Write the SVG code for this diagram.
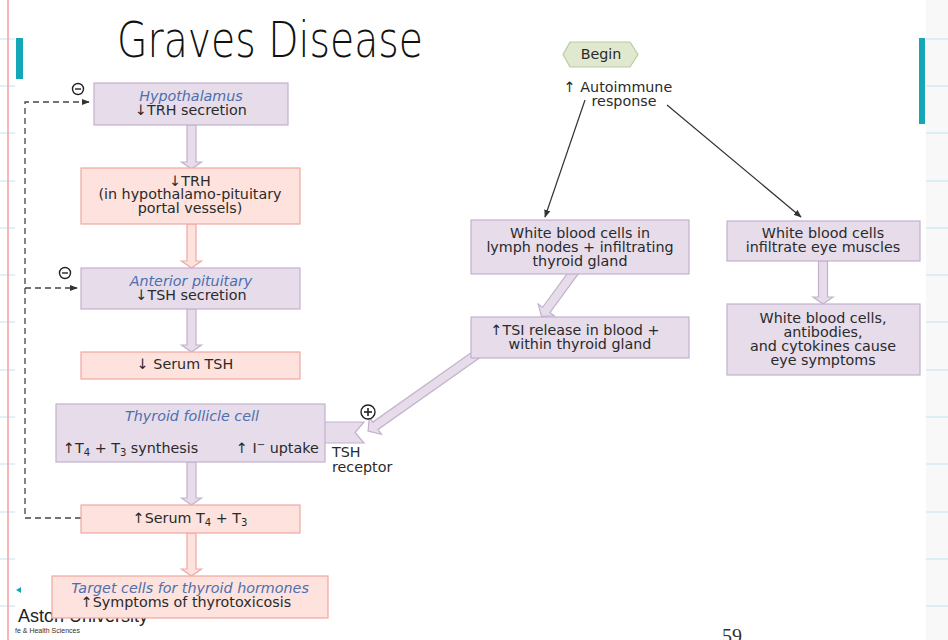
<svg xmlns="http://www.w3.org/2000/svg" width="948" height="640" viewBox="0 0 948 640">
<style>
  .t { font-family: "DejaVu Sans", "Liberation Sans", sans-serif; font-size: 14.3px; fill: #2a2a2a; text-anchor: middle; }
  .tl { font-family: "DejaVu Sans", "Liberation Sans", sans-serif; font-size: 14.3px; fill: #2a2a2a; }
  .it { font-style: italic; fill: #4d6fae; }
  .lil { fill: #e6dcea; stroke: #c3b1cd; stroke-width: 1.2; }
  .sal { fill: #fde2dd; stroke: #f0a9a1; stroke-width: 1.2; }
  .grn { fill: #e0e9d0; stroke: #b9cc9d; stroke-width: 1.2; }
  .thin { fill: none; stroke: #333; stroke-width: 1.2; }
  .dash { fill: none; stroke: #444; stroke-width: 1.3; stroke-dasharray: 6 4; }
  .sign { fill: #fff; stroke: #222; stroke-width: 1.4; }
  .nb { stroke: #bfe2f2; stroke-width: 1; }
</style>
<defs>
  <marker id="ah" viewBox="0 0 10 10" refX="9" refY="5" markerWidth="8" markerHeight="8" markerUnits="userSpaceOnUse" orient="auto">
    <path d="M0,1 L10,5 L0,9 Z" fill="#333"/>
  </marker>
</defs>

<!-- notebook page background -->
<g id="page">
  <rect x="0" y="0" width="948" height="640" fill="#ffffff"/>
  <rect x="926" y="0" width="22" height="640" fill="#f8f8f8"/>
  <g class="nb">
    <line x1="0" y1="39" x2="15" y2="39"/><line x1="0" y1="86" x2="15" y2="86"/><line x1="0" y1="133" x2="15" y2="133"/>
    <line x1="0" y1="181" x2="15" y2="181"/><line x1="0" y1="228" x2="15" y2="228"/><line x1="0" y1="275" x2="15" y2="275"/>
    <line x1="0" y1="322" x2="15" y2="322"/><line x1="0" y1="370" x2="15" y2="370"/><line x1="0" y1="417" x2="15" y2="417"/>
    <line x1="0" y1="464" x2="15" y2="464"/><line x1="0" y1="512" x2="15" y2="512"/><line x1="0" y1="559" x2="15" y2="559"/>
    <line x1="0" y1="606" x2="15" y2="606"/>
    <line x1="926" y1="39" x2="948" y2="39"/><line x1="926" y1="86" x2="948" y2="86"/><line x1="926" y1="133" x2="948" y2="133"/>
    <line x1="926" y1="181" x2="948" y2="181"/><line x1="926" y1="228" x2="948" y2="228"/><line x1="926" y1="275" x2="948" y2="275"/>
    <line x1="926" y1="322" x2="948" y2="322"/><line x1="926" y1="370" x2="948" y2="370"/><line x1="926" y1="417" x2="948" y2="417"/>
    <line x1="926" y1="464" x2="948" y2="464"/><line x1="926" y1="512" x2="948" y2="512"/><line x1="926" y1="559" x2="948" y2="559"/>
    <line x1="926" y1="606" x2="948" y2="606"/>
  </g>
  <line x1="8" y1="0" x2="8" y2="640" stroke="#f5a3a3" stroke-width="1.6"/>
  <rect x="16" y="38" width="7" height="41" fill="#14a7b8"/>
  <rect x="919" y="38" width="6" height="86" fill="#14a7b8"/>
  <polygon points="16,590 21,587 21,593" fill="#14a7b8"/>
  <text x="18" y="622" font-family="Liberation Sans, sans-serif" font-size="18" fill="#222">Aston University</text>
  <text x="15" y="633" font-family="Liberation Sans, sans-serif" font-size="7" fill="#333">fe &amp; Health Sciences</text>
  <text x="722" y="643" font-family="Liberation Serif, serif" font-size="20" fill="#333">59</text>
</g>

<text id="title" x="117" y="57" font-family="DejaVu Sans, sans-serif" font-weight="200" font-size="50" textLength="306" lengthAdjust="spacingAndGlyphs" fill="#111">Graves Disease</text>

<!-- connectors -->
<g id="connectors">
  <!-- block arrows, left column -->
  <polygon class="lil" points="187,125 196,125 196,162 201.5,162 191.5,169 181.5,162 187,162"/>
  <polygon class="sal" points="187,224 196,224 196,261 201.5,261 191.5,268 181.5,261 187,261"/>
  <polygon class="lil" points="187,309 196,309 196,345 201.5,345 191.5,352 181.5,345 187,345"/>
  <polygon class="lil" points="187,462 196,462 196,498 201.5,498 191.5,505 181.5,498 187,498"/>
  <polygon class="sal" points="187,533 196,533 196,569 201.5,569 191.5,576 181.5,569 187,569"/>
  <!-- eye column -->
  <polygon class="lil" points="818.5,261 827.5,261 827.5,297 833,297 823,304 813,297 818.5,297"/>
  <!-- diagonal block arrows -->
  <g transform="translate(577,268) rotate(126.3)">
    <polygon class="lil" points="0,-4.5 52,-4.5 52,-10 60,0 52,10 52,4.5 0,4.5"/>
  </g>
  <g transform="translate(480,352) rotate(144.8)">
    <polygon class="lil" points="0,-4.5 128,-4.5 128,-10.5 137,0 128,10.5 128,4.5 0,4.5"/>
  </g>
  <!-- thin arrows -->
  <line class="thin" x1="585" y1="100" x2="545" y2="217" marker-end="url(#ah)"/>
  <line class="thin" x1="667" y1="105" x2="801" y2="217" marker-end="url(#ah)"/>
  <!-- negative feedback -->
  <path class="dash" d="M81,518 H25 V102 H89" marker-end="url(#ah)"/>
  <path class="dash" d="M25,288 H77" marker-end="url(#ah)"/>
</g>

<g id="minus1"><circle class="sign" cx="78" cy="89" r="5.5"/><line x1="75" y1="89" x2="81" y2="89" stroke="#222" stroke-width="1.4"/></g>
<g id="minus2"><circle class="sign" cx="65" cy="273" r="5.5"/><line x1="62" y1="273" x2="68" y2="273" stroke="#222" stroke-width="1.4"/></g>
<g id="plus"><circle class="sign" cx="368" cy="412" r="7"/><line x1="364" y1="412" x2="372" y2="412" stroke="#222" stroke-width="1.6"/><line x1="368" y1="408" x2="368" y2="416" stroke="#222" stroke-width="1.6"/></g>

<g id="hypothalamus">
  <rect class="lil" x="94" y="83" width="194" height="42"/>
  <text class="t it" x="191" y="101">Hypothalamus</text>
  <text class="t" x="191" y="115">↓TRH secretion</text>
</g>

<g id="trh">
  <rect class="sal" x="81" y="168" width="219" height="56"/>
  <text class="t" x="190" y="186">↓TRH</text>
  <text class="t" x="190" y="199">(in hypothalamo-pituitary</text>
  <text class="t" x="190" y="213">portal vessels)</text>
</g>

<g id="anterior-pituitary">
  <rect class="lil" x="81" y="268" width="219" height="41"/>
  <text class="t it" x="191" y="286">Anterior pituitary</text>
  <text class="t" x="191" y="300">↓TSH secretion</text>
</g>

<g id="serum-tsh">
  <rect class="sal" x="81" y="352" width="219" height="27"/>
  <text class="t" x="185" y="369">↓ Serum TSH</text>
</g>

<g id="thyroid-follicle-cell">
  <polygon class="lil" points="324,422 364,422 355,432.5 364,443 324,443"/>
  <rect class="lil" x="56" y="404" width="269" height="58"/>
  <text class="t it" x="192" y="421">Thyroid follicle cell</text>
  <text class="tl" x="63" y="453">↑T<tspan dy="3" font-size="10">4</tspan><tspan dy="-3"> + T</tspan><tspan dy="3" font-size="10">3</tspan><tspan dy="-3"> synthesis</tspan></text>
  <text class="tl" x="236" y="453">↑ I<tspan dy="-5" font-size="10">−</tspan><tspan dy="5"> uptake</tspan></text>
  <text class="tl" x="332" y="457">TSH</text>
  <text class="tl" x="332" y="472">receptor</text>
</g>

<g id="serum-t4-t3">
  <rect class="sal" x="81" y="505" width="219" height="28"/>
  <text class="t" x="190" y="523">↑Serum T<tspan dy="3" font-size="10">4</tspan><tspan dy="-3"> + T</tspan><tspan dy="3" font-size="10">3</tspan></text>
</g>

<g id="target-cells">
  <rect class="sal" x="52" y="576" width="276" height="42"/>
  <text class="t it" x="190" y="593">Target cells for thyroid hormones</text>
  <text class="t" x="186" y="607">↑Symptoms of thyrotoxicosis</text>
</g>

<g id="begin">
  <polygon class="grn" points="563,54.5 570,42 630,42 638,54.5 630,67 570,67"/>
  <text class="t" x="601" y="59">Begin</text>
</g>

<g id="autoimmune">
  <text class="t" x="618" y="92">↑ Autoimmune</text>
  <text class="t" x="624" y="106">response</text>
</g>

<g id="wbc-lymph">
  <rect class="lil" x="471" y="220" width="218" height="54"/>
  <text class="t" x="580" y="238">White blood cells in</text>
  <text class="t" x="580" y="252">lymph nodes + infiltrating</text>
  <text class="t" x="580" y="266">thyroid gland</text>
</g>

<g id="tsi">
  <rect class="lil" x="471" y="317" width="218" height="41"/>
  <text class="t" x="575" y="335">↑TSI release in blood +</text>
  <text class="t" x="580" y="349">within thyroid gland</text>
</g>

<g id="wbc-eye">
  <rect class="lil" x="727" y="221" width="193" height="40"/>
  <text class="t" x="823" y="238">White blood cells</text>
  <text class="t" x="823" y="252">infiltrate eye muscles</text>
</g>

<g id="eye-symptoms">
  <rect class="lil" x="727" y="304" width="193" height="71"/>
  <text class="t" x="823" y="323">White blood cells,</text>
  <text class="t" x="823" y="337">antibodies,</text>
  <text class="t" x="823" y="351">and cytokines cause</text>
  <text class="t" x="823" y="365">eye symptoms</text>
</g>
</svg>
